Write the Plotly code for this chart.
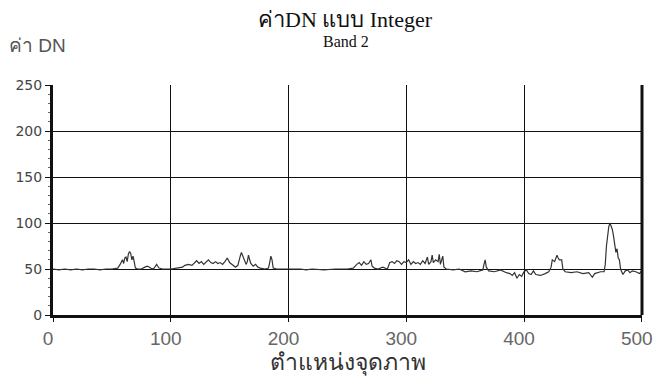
import plotly.graph_objects as go

# Pixel position along the scan line and its DN value (Band 2, integer)
pixel_pos = [0, 5, 10, 15, 20, 25, 30, 35, 40, 45, 50, 55, 57, 58, 59, 60, 61, 62, 63, 64,
             65, 66, 67, 68, 69, 70, 72, 75, 78, 80, 82, 84, 86, 88, 89, 90, 93, 96, 100, 105,
             110, 112, 115, 118, 120, 122, 124, 126, 128, 130, 132, 134, 136, 138, 140, 142, 144, 146, 148, 150,
             152, 155, 157, 158, 159, 160, 161, 162, 163, 164, 165, 166, 167, 168, 170, 172, 174, 176, 180, 183,
             184, 185, 186, 187, 190, 200, 210, 215, 220, 230, 240, 250, 255, 258, 260, 262, 264, 266, 268, 270,
             271, 273, 276, 280, 284, 286, 288, 290, 292, 294, 296, 298, 300, 302, 304, 306, 308, 310, 312, 314,
             316, 318, 319, 321, 322, 323, 325, 327, 328, 329, 331, 332, 334, 340, 345, 350, 355, 360, 365, 366,
             367, 368, 370, 375, 380, 385, 388, 390, 392, 394, 396, 398, 400, 402, 404, 406, 408, 410, 414, 418,
             421, 423, 424, 426, 427, 428, 429, 430, 432, 433, 435, 440, 445, 450, 455, 458, 460, 465, 468, 469,
             470, 471, 472, 473, 474, 475, 476, 477, 478, 479, 480, 481, 482, 484, 486, 488, 490, 492, 495, 498,
             500]
dn_values = [50, 49, 50, 49, 50, 49, 50, 50, 49, 50, 50, 51, 55, 58, 60, 56, 62, 63, 58, 66,
             69, 67, 60, 64, 55, 51, 50, 50, 52, 53, 52, 50, 51, 55, 53, 51, 50, 50, 50, 51,
             52, 54, 55, 54, 57, 59, 56, 58, 55, 57, 60, 57, 56, 58, 56, 57, 55, 58, 62, 57,
             55, 52, 54, 60, 64, 68, 65, 62, 58, 55, 58, 65, 60, 56, 53, 55, 52, 51, 50, 51,
             57, 64, 60, 51, 50, 50, 50, 49, 50, 49, 50, 50, 51, 55, 57, 54, 58, 55, 56, 60,
             53, 51, 50, 52, 50, 57, 58, 56, 59, 58, 55, 58, 57, 60, 55, 58, 56, 57, 55, 59,
             56, 63, 55, 58, 65, 57, 60, 58, 66, 55, 64, 52, 50, 49, 50, 47, 48, 47, 49, 55,
             60, 52, 48, 47, 49, 46, 45, 43, 46, 40, 44, 42, 47, 49, 45, 44, 48, 44, 43, 45,
             47, 52, 60, 58, 63, 65, 62, 60, 60, 50, 47, 46, 47, 45, 46, 41, 45, 47, 47, 55,
             75, 90, 96, 100, 97, 93, 86, 76, 68, 72, 62, 60, 50, 44, 48, 49, 46, 48, 47, 45,
             48]

x_ticks = [0, 100, 200, 300, 400, 500]
y_ticks = [0, 50, 100, 150, 200, 250]

title_text = "ค่าDN แบบ Integer"
subtitle_text = "Band 2"
y_title = "ค่า DN"
x_title = "ตำแหน่งจุดภาพ"

sans = "Liberation Sans, Arial, sans-serif"
wide = "DejaVu Sans, Verdana, sans-serif"
serif = "Liberation Serif, Times New Roman, serif"

fig = go.Figure()
fig.add_trace(go.Scatter(
    x=pixel_pos, y=dn_values, mode="lines",
    line=dict(color="#333333", width=1.2),
    hoverinfo="x+y", showlegend=False,
))

fig.update_layout(
    width=655, height=381,
    margin=dict(l=53, r=13, t=85, b=66, autoexpand=False),
    paper_bgcolor="white", plot_bgcolor="white",
    xaxis=dict(
        range=[0, 500.2], tickvals=x_ticks, ticktext=[str(v) for v in x_ticks],
        showgrid=True, gridcolor="#111", gridwidth=1,
        showline=True, linecolor="#111", linewidth=3,
        ticks="outside", ticklen=4, tickcolor="#111",
        tickfont=dict(family=sans, size=19, color="#666"),
        ticklabelshift=-5,
        ticklabeloverflow="allow", automargin=False,
        zeroline=False,
        title=dict(text=x_title, font=dict(family=sans, size=23, color="#333"), standoff=2),
    ),
    yaxis=dict(
        range=[0, 250], tickvals=y_ticks, ticktext=[str(v) for v in y_ticks],
        showgrid=True, gridcolor="#111", gridwidth=1,
        showline=True, linecolor="#111", linewidth=3,
        ticks="outside", ticklen=5, tickcolor="#111",
        minor=dict(dtick=10, ticks="outside", ticklen=2, tickcolor="#666", showgrid=False),
        tickfont=dict(family=wide, size=14, color="#444"),
        automargin=False,
        zeroline=False,
    ),
    shapes=[
        dict(type="line", xref="paper", yref="paper", x0=1, x1=1, y0=0, y1=1,
             line=dict(color="#111", width=3)),
    ],
    annotations=[
        dict(text=title_text, xref="paper", yref="paper", x=0.497, y=1.0, yshift=66,
             xanchor="center", yanchor="middle", showarrow=False,
             font=dict(family=serif, size=22, color="#111")),
        dict(text=subtitle_text, xref="paper", yref="paper", x=0.497, y=1.0, yshift=44,
             xanchor="center", yanchor="middle", showarrow=False,
             font=dict(family=serif, size=16, color="#111")),
        dict(text=y_title, xref="paper", yref="paper", x=0, xshift=-46, y=1.0, yshift=40,
             xanchor="left", yanchor="middle", showarrow=False,
             font=dict(family=sans, size=19, color="#555")),
    ],
)

fig.write_html("out.html")
